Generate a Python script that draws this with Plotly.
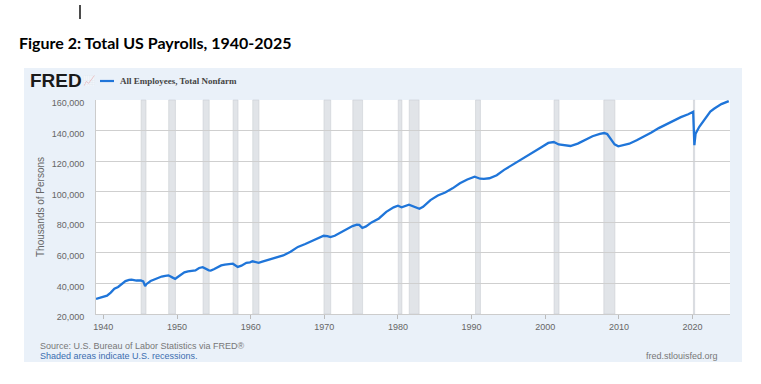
import plotly.graph_objects as go

# ---- data (thousands of persons) ----
dates = ["1939-01","1939-07","1940-01","1940-07","1941-01","1941-07","1942-01","1942-07",
         "1943-01","1943-07","1943-11","1944-07","1945-02","1945-06","1945-09","1945-11",
         "1946-06","1946-12","1947-06","1947-12","1948-06","1948-11","1949-06","1949-10",
         "1950-01","1950-07","1951-01","1951-07","1952-01","1952-07","1953-01","1953-07",
         "1954-05","1954-08","1955-01","1955-07","1956-01","1956-07","1957-03","1957-08",
         "1958-04","1958-10","1959-06","1959-12","1960-04","1961-02","1961-08","1962-06",
         "1963-06","1964-06","1965-06","1966-06","1967-06","1968-06","1969-06","1969-12",
         "1970-06","1970-11","1971-06","1972-06","1973-06","1973-11","1974-06","1974-10",
         "1975-03","1975-09","1976-06","1977-06","1978-06","1979-06","1980-01","1980-07",
         "1981-07","1982-06","1982-12","1983-06","1984-01","1984-06","1985-06","1986-06",
         "1987-06","1988-06","1989-06","1990-06","1991-03","1991-09","1992-06","1993-06",
         "1994-06","1995-06","1996-06","1997-06","1998-06","1999-06","2000-06","2001-03",
         "2001-11","2002-06","2003-06","2004-06","2005-06","2006-06","2007-06","2008-01",
         "2008-06","2008-12","2009-06","2009-12","2010-06","2011-06","2012-06","2013-06",
         "2014-06","2015-06","2016-06","2017-06","2018-06","2019-06","2020-02","2020-04",
         "2020-06","2020-12","2021-06","2021-12","2022-06","2022-12","2023-06","2023-12",
         "2024-06","2024-12"]
payrolls = [29900,30500,31600,32000,34000,36500,37700,39500,
            41500,42300,42500,41900,42000,41300,38200,39500,
            41600,42600,43800,44500,45000,45300,43800,43000,
            43900,45500,47300,47900,48200,48500,50100,50600,
            48600,48400,49300,50700,51800,52300,52900,52900,
            50800,51600,53500,53800,54500,53500,54200,55500,
            56700,58300,60700,63900,65800,67900,70500,71200,
            71000,70300,71200,73800,76800,77500,78500,78300,
            76300,77300,79900,82500,86800,89800,90800,89800,
            91500,89700,88800,90100,92600,94500,97500,99500,
            102200,105500,108000,109800,108500,108400,108800,110800,
            114300,117200,119700,122700,125900,128900,131900,132500,
            130900,130500,129900,131500,133900,136300,137800,138400,
            137700,134600,131000,129700,130300,131400,133700,136000,
            138700,141600,144100,146300,148800,150700,152300,130500,
            138000,142500,146000,149500,152500,154300,156000,157300,
            158300,159300]

recession_start = ["1945-02-15","1948-11-15","1953-07-15","1957-08-15","1960-04-15","1969-12-15",
                   "1973-11-15","1980-01-15","1981-07-15","1990-07-15","2001-03-15","2007-12-15",
                   "2020-02-15"]
recession_end = ["1945-10-15","1949-10-15","1954-05-15","1958-04-15","1961-02-15","1970-11-15",
                 "1975-03-15","1980-07-15","1982-11-15","1991-03-15","2001-11-15","2009-06-15",
                 "2020-04-15"]

y_ticks = [20000, 40000, 60000, 80000, 100000, 120000, 140000, 160000]
x_ticks = ["1940-01-01","1950-01-01","1960-01-01","1970-01-01","1980-01-01",
           "1990-01-01","2000-01-01","2010-01-01","2020-01-01"]
x_tick_labels = ["1940","1950","1960","1970","1980","1990","2000","2010","2020"]

series_name = "All Employees, Total Nonfarm"
title_text = "Figure 2: Total US Payrolls, 1940-2025"

W, H = 761, 384
L, R, T, B = 96, 31, 100, 70
pw, ph = W - L - R, H - T - B

def px(x):
    return (x - L) / pw

def py(y):
    return (H - B - y) / ph

fig = go.Figure()
fig.add_trace(go.Scatter(x=dates, y=payrolls, mode="lines", name=series_name,
                         line=dict(color="#1f75d9", width=2.3), showlegend=False))

shapes = []
# blue panel
shapes.append(dict(type="rect", xref="paper", yref="paper", x0=px(24), x1=px(742),
                   y0=py(362), y1=py(68), fillcolor="#eaf1f9", line=dict(width=0), layer="below"))
# white plot area
shapes.append(dict(type="rect", xref="paper", yref="paper", x0=0, x1=1, y0=0, y1=1,
                   fillcolor="#ffffff", line=dict(width=0), layer="below"))
for s, e in zip(recession_start, recession_end):
    shapes.append(dict(type="rect", xref="x", yref="paper", x0=s, x1=e, y0=0, y1=1,
                       fillcolor="#e1e4e8", line=dict(width=0.6, color="#cbced3"), layer="below"))
# legend line sample
shapes.append(dict(type="line", xref="paper", yref="paper", x0=px(100), x1=px(114),
                   y0=py(81), y1=py(81), line=dict(color="#1f75d9", width=2.2)))
# cursor artifact at top
shapes.append(dict(type="line", xref="paper", yref="paper", x0=px(80), x1=px(80),
                   y0=py(5), y1=py(19), line=dict(color="#111111", width=1.5)))

annotations = [
    dict(text="<b>" + title_text + "</b>", xref="paper", yref="paper", x=px(17), y=py(43),
         xanchor="left", yanchor="middle", showarrow=False,
         font=dict(family="Lato, Open Sans, sans-serif", size=16, color="#000000")),
    dict(text="<b>FRED</b>", xref="paper", yref="paper", x=px(28), y=py(80),
         xanchor="left", yanchor="middle", showarrow=False,
         font=dict(family="Liberation Sans, Arial, sans-serif", size=19, color="#1a1a1a")),
    dict(text="📈", xref="paper", yref="paper", x=px(81), y=py(80),
         xanchor="left", yanchor="middle", showarrow=False, opacity=0.35,
         font=dict(size=10, color="#999999")),
    dict(text="<b>" + series_name + "</b>", xref="paper", yref="paper", x=px(118), y=py(81),
         xanchor="left", yanchor="middle", showarrow=False,
         font=dict(family="Liberation Serif, Times New Roman, serif", size=9, color="#444444")),
    dict(text="Thousands of Persons", xref="paper", yref="paper", x=px(40), y=py(207),
         xanchor="center", yanchor="middle", textangle=-90, showarrow=False,
         font=dict(family="Liberation Sans, Arial, sans-serif", size=10, color="#666666")),
    dict(text="Source: U.S. Bureau of Labor Statistics via FRED®", xref="paper", yref="paper",
         x=px(38), y=py(346), xanchor="left", yanchor="middle", showarrow=False,
         font=dict(family="Liberation Sans, Arial, sans-serif", size=9, color="#777777")),
    dict(text="Shaded areas indicate U.S. recessions.", xref="paper", yref="paper",
         x=px(38), y=py(356), xanchor="left", yanchor="middle", showarrow=False,
         font=dict(family="Liberation Sans, Arial, sans-serif", size=9, color="#3a6db0")),
    dict(text="fred.stlouisfed.org", xref="paper", yref="paper",
         x=px(720), y=py(356), xanchor="right", yanchor="middle", showarrow=False,
         font=dict(family="Liberation Sans, Arial, sans-serif", size=9, color="#777777")),
]

fig.update_layout(
    width=W, height=H,
    margin=dict(l=L, r=R, t=T, b=B),
    paper_bgcolor="#ffffff", plot_bgcolor="rgba(0,0,0,0)",
    shapes=shapes, annotations=annotations, showlegend=False,
    xaxis=dict(type="date", range=["1939-01-01", "2025-02-01"], tickvals=x_ticks,
               ticktext=x_tick_labels, showgrid=False, zeroline=False,
               ticks="outside", ticklen=4, tickcolor="#bbbbbb",
               showline=True, linecolor="#cccccc", linewidth=1,
               tickfont=dict(family="Liberation Sans, Arial, sans-serif", size=9, color="#666666")),
    yaxis=dict(range=[20000, 160000], tickvals=y_ticks, tickformat=",d",
               showgrid=True, gridcolor="#cfcfcf", gridwidth=1, zeroline=False,
               showline=True, linecolor="#cccccc", ticks="", ticklabelstandoff=9,
               ticklabelshift=3,
               tickfont=dict(family="Liberation Sans, Arial, sans-serif", size=9, color="#666666")),
)

fig.write_html("out.html", config={"displayModeBar": False},
               post_script="document.body.style.margin='0px';")
